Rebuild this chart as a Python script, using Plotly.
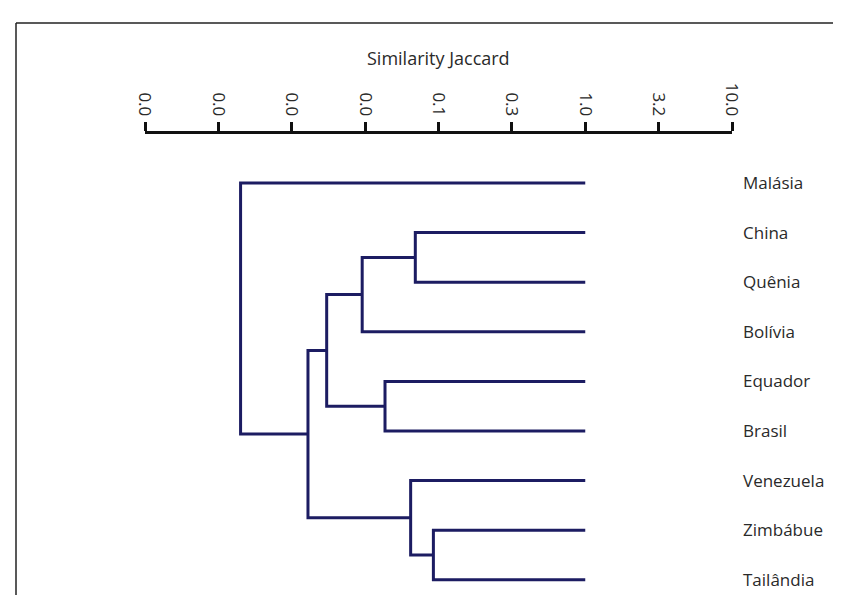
import plotly.graph_objects as go

# leaves, top to bottom
leaves = ["Malásia", "China", "Quênia", "Bolívia", "Equador", "Brasil",
          "Venezuela", "Zimbábue", "Tailândia"]
leaf_level = 1.0

# merges: (name, left, right, similarity)
merge_names = ["c1", "c2", "c3", "c4", "c5", "c6", "c7", "c8"]
merge_left = ["China", "c1", "Equador", "c2", "Zimbábue", "Venezuela", "c4", "Malásia"]
merge_right = ["Quênia", "Bolívia", "Brasil", "c3", "Tailândia", "c5", "c6", "c7"]
merge_height = [0.0695, 0.0302, 0.0432, 0.0173, 0.0923, 0.0646, 0.0129, 0.00448]

tick_vals = [0.001, 0.00316, 0.01, 0.0316, 0.1, 0.316, 1.0, 3.16, 10.0]
tick_text = ["0.0", "0.0", "0.0", "0.0", "0.1", "0.3", "1.0", "3.2", "10.0"]

# node positions
pos = {name: (leaf_level, i) for i, name in enumerate(leaves)}
xs, ys = [], []
for n, a, b, h in zip(merge_names, merge_left, merge_right, merge_height):
    xa, ya = pos[a]
    xb, yb = pos[b]
    xs += [xa, h, h, xb, None]
    ys += [ya, ya, yb, yb, None]
    pos[n] = (h, (ya + yb) / 2)

line_col = "#1c1c62"
txt_col = "#2a2a2a"
font_fam = "Open Sans, Noto Sans, sans-serif"

fig = go.Figure()
fig.add_trace(go.Scatter(x=xs, y=ys, mode="lines",
                         line=dict(color=line_col, width=3),
                         hoverinfo="skip", showlegend=False))

W, H = 841, 595
ml, mr, mt, mb = 137, 117, 126, 0
pw, ph = W - ml - mr, H - mt - mb


def px_to_paper(px, py):
    return (px - ml) / pw, (H - mb - py) / ph


x0, y0 = px_to_paper(8, 15)
x1, _ = px_to_paper(841, 15)
_, y1 = px_to_paper(8, 595)
tx, ty = px_to_paper(431, 50)

fig.update_layout(
    width=W, height=H,
    margin=dict(l=ml, r=mr, t=mt, b=mb),
    paper_bgcolor="white", plot_bgcolor="white",
    font=dict(family=font_fam, size=17, color=txt_col),
    xaxis=dict(type="log", side="top", range=[-3, 1],
               tickvals=tick_vals, ticktext=tick_text, tickangle=90,
               ticks="outside", ticklen=9, tickwidth=2.5, tickcolor="#111",
               showline=True, linecolor="#111", linewidth=2.5,
               showgrid=False, zeroline=False,
               tickfont=dict(size=17, color=txt_col)),
    yaxis=dict(side="right", range=[8.468, -0.988],
               tickvals=list(range(len(leaves))), ticktext=leaves,
               ticks="", showline=False, showgrid=False, zeroline=False,
               ticklabelstandoff=10,
               tickfont=dict(size=17, color=txt_col)),
    shapes=[
        dict(type="line", xref="paper", yref="paper", x0=x0, y0=y0, x1=x1, y1=y0,
             line=dict(color="#222", width=1.5)),
        dict(type="line", xref="paper", yref="paper", x0=x0, y0=y0, x1=x0, y1=y1,
             line=dict(color="#222", width=1.5)),
    ],
    annotations=[dict(text="Similarity Jaccard", xref="paper", yref="paper",
                      x=tx, y=ty, showarrow=False,
                      xanchor="center", yanchor="middle",
                      font=dict(size=18, color=txt_col))],
)

fig.write_html("out.html")
